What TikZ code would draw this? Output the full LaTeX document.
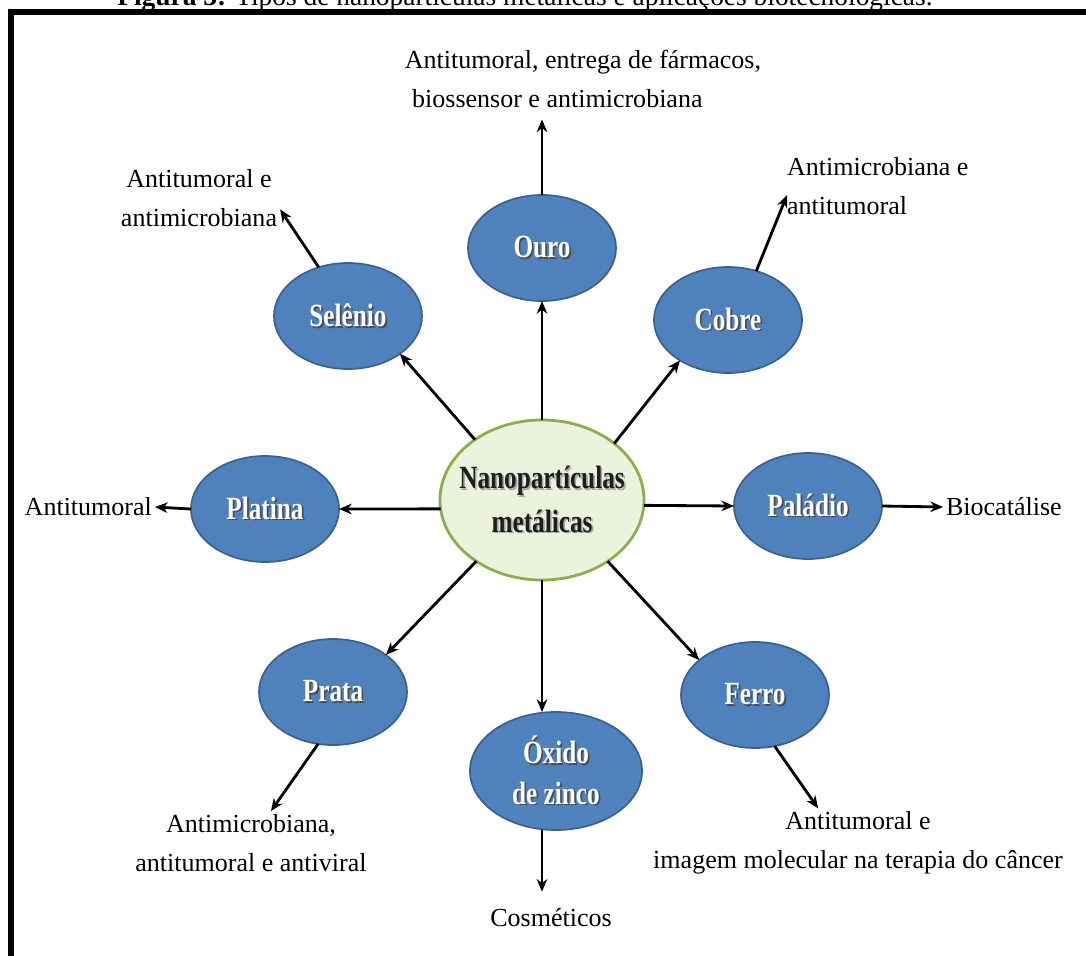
\documentclass[tikz,border=0pt]{standalone}
\usepackage{fontspec}
\setmainfont{Liberation Serif}
\newfontfamily\elfont[FakeStretch=0.78]{Liberation Serif Bold}
\usetikzlibrary{positioning, calc, shapes.geometric, arrows.meta}

\definecolor{metalblue}{RGB}{79,129,189}
\definecolor{metaledge}{RGB}{58,96,142}
\definecolor{nanofill}{RGB}{236,243,220}
\definecolor{nanoedge}{RGB}{140,174,78}
\definecolor{nanotext}{RGB}{30,30,30}

% texto com sombra
\newcommand{\sombra}[2]{\leavevmode\rlap{\kern1.2pt\raisebox{-1.2pt}{\textcolor{#2}{#1}}}#1}

\begin{document}
\begin{tikzpicture}[x=0.025cm, y=-0.025cm]
\tikzset{metal/.style={
    ellipse, draw=metaledge, line width=1.2pt, fill=metalblue, text=white,
    minimum width=3.7cm, minimum height=2.65cm, inner xsep=-0.8cm, inner ysep=0pt, outer sep=0pt,
    font=\elfont\fontsize{23}{29}\selectfont, align=center},
    nano/.style={
    ellipse, draw=nanoedge, line width=2pt, fill=nanofill, text=nanotext,
    minimum width=5.1cm, minimum height=4cm, inner xsep=-1cm, inner ysep=0pt, outer sep=0pt,
    font=\elfont\fontsize{23}{31}\selectfont, align=center},
    app/.style={font=\fontsize{18.5}{28}\selectfont, inner sep=2pt},
    seta/.style={-{Stealth[length=9pt,width=7.5pt]}, line width=2pt}
}

    \useasboundingbox (0,0) rectangle (1086,955);
    \clip (0,0) rectangle (1086,955);

    % legenda cortada no topo
    \node[anchor=base west, inner sep=0pt, font=\fontsize{19.5}{24}\selectfont] (legenda) at (117,5)
        {\textbf{Figura 3:} Tipos de nanopartículas metálicas e aplicações biotecnológicas.};
    \draw[line width=0.15cm] (1120,12) -- (11,12) -- (11,990);

    \coordinate (centro) at (542,500);

    \node[nano] (nano) at (centro) {\sombra{Nanopartículas}{black!35}\\\sombra{metálicas}{black!35}};

    \node[metal] (ouro) at ($(centro)+(0,-252)$) {\sombra{Ouro}{black!70}};
    \node[metal] (selenio) at ($(centro)+(-194,-184)$) {\sombra{Selênio}{black!70}};
    \node[metal] (cobre) at ($(centro)+(186,-180)$) {\sombra{Cobre}{black!70}};
    \node[metal] (platina) at ($(centro)+(-277,9)$) {\sombra{Platina}{black!70}};
    \node[metal] (paladio) at ($(centro)+(266,6)$) {\sombra{Paládio}{black!70}};
    \node[metal] (prata) at ($(centro)+(-209,192)$) {\sombra{Prata}{black!70}};
    \node[metal] (ferro) at ($(centro)+(213,195)$) {\sombra{Ferro}{black!70}};
    \node[metal, minimum width=4.3cm, minimum height=2.95cm] (oxido) at ($(centro)+(14,271)$)
        {\sombra{Óxido}{black!70}\\\sombra{de zinco}{black!70}};

    % aplicacoes
    \node[app, align=left] (ouroApp) at (583,79) {Antitumoral, entrega de fármacos,\\\hspace{0.18cm}biossensor e antimicrobiana};
    \node[app, align=center] (selApp) at (199,198) {Antitumoral e\\antimicrobiana};
    \node[app, align=left, anchor=west] (cobApp) at (784,186) {Antimicrobiana e\\antitumoral};
    \node[app, anchor=east] (plaApp) at (155,507) {Antitumoral};
    \node[app, anchor=west] (palApp) at (943,507) {Biocatálise};
    \node[app, align=center] (praApp) at (251,843) {Antimicrobiana,\\antitumoral e antiviral};
    \node[app, align=center] (ferApp) at (858,843) {Antitumoral e\\imagem molecular na terapia do câncer};
    \node[app] (cosApp) at (551,918) {Cosméticos};

    % setas do centro
    \draw[seta] (nano.north) -- (ouro.south);
    \draw[seta] (nano.38) -- (cobre.220);
    \draw[seta] (nano.138) -- (selenio.-36);
    \draw[seta] (nano.185) -- (platina.east);
    \draw[seta] (nano.-3) -- (paladio.west);
    \draw[seta] (nano.223) -- (prata.35);
    \draw[seta] (nano.-43) -- (ferro.148);
    \draw[seta] (nano.south) -- (nano.south |- oxido.north);

    % setas para as aplicacoes
    \draw[seta, shorten >=6pt] (ouro.north) -- (ouro.north |- ouroApp.south);
    \draw[seta] (selenio.121) -- (selApp.-8);
    \draw[seta] (cobre.60) -- ($(cobApp.west)+(3,9)$);
    \draw[seta] (platina.west) -- (plaApp.east);
    \draw[seta] (paladio.east) -- (palApp.west);
    \draw[seta] (prata.254) -- (praApp.58);
    \draw[seta] (ferro.-69) -- (ferApp.139);
    \draw[seta, shorten >=10pt] (oxido.south -| nano.south) -- (cosApp.north -| nano.south);

\end{tikzpicture}
\end{document}
